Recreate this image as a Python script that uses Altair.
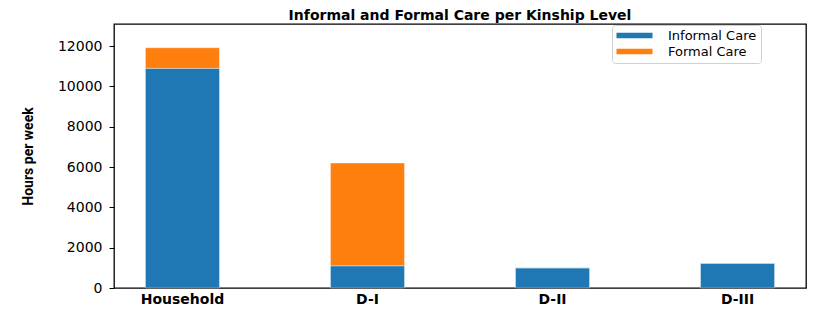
import altair as alt
import pandas as pd

categories = ["Household", "D-I", "D-II", "D-III"]
informal = [10900, 1100, 1000, 1230]
formal = [1020, 5100, 0, 0]
series = ["Informal Care", "Formal Care"]
colors = ["#1f77b4", "#ff7f0e"]
y_ticks = [0, 2000, 4000, 6000, 8000, 10000, 12000]

rows = []
for c, i, f in zip(categories, informal, formal):
    rows.append({"level": c, "care": series[0], "hours": i, "ord": 0})
    rows.append({"level": c, "care": series[1], "hours": f, "ord": 1})
df = pd.DataFrame(rows)

chart = alt.Chart(df).mark_bar(stroke="white", strokeOpacity=0.35, strokeWidth=1).encode(
    x=alt.X("level:N", sort=categories,
            scale=alt.Scale(paddingInner=0.6, paddingOuter=0.17),
            axis=alt.Axis(title=None, labelAngle=0, tickSize=0, domain=False,
                          labelFont="DejaVu Sans", labelFontWeight="bold",
                          labelFontSize=14, labelColor="black", labelPadding=4)),
    y=alt.Y("hours:Q", stack="zero",
            scale=alt.Scale(domain=[0, 13100], nice=False),
            axis=alt.Axis(title="Hours per week", values=y_ticks, grid=False,
                          format="d",
                          domain=False, tickSize=5, tickColor="black",
                          labelFont="DejaVu Sans", labelFontSize=14,
                          labelColor="black", labelPadding=7,
                          titleFont="Roboto",
                          titleFontWeight="bold",
                          titleFontSize=14, titleColor="black",
                          titleX=-79, titleY=132, titleAngle=-90,
                          titleAlign="center", titleBaseline="bottom")),
    color=alt.Color("care:N", scale=alt.Scale(domain=series, range=colors),
                    legend=alt.Legend(title=None, orient="none", legendX=498, legendY=1,
                                      symbolType="M-1,-0.45L5,-0.45L5,0.45L-1,0.45Z",
                                      symbolSize=144, symbolStrokeWidth=0,
                                      labelFont="DejaVu Sans", labelFontSize=13,
                                      labelColor="black", labelOffset=39,
                                      rowPadding=2, padding=4,
                                      fillColor="white", strokeColor="#d0d0d0",
                                      cornerRadius=3, labelLimit=300)),
    order=alt.Order("ord:Q"),
).properties(
    width=692, height=264,
    title=alt.TitleParams("Informal and Formal Care per Kinship Level",
                          font="DejaVu Sans", fontWeight="bold", fontSize=14,
                          color="black", anchor="middle", offset=1),
    autosize=alt.AutoSizeParams(type="none"),
    padding={"left": 106, "top": 16, "right": 16, "bottom": 18},
).configure_view(stroke="black", strokeWidth=1.3)

chart.save("out.html", embed_options={"renderer": "svg", "actions": False})
